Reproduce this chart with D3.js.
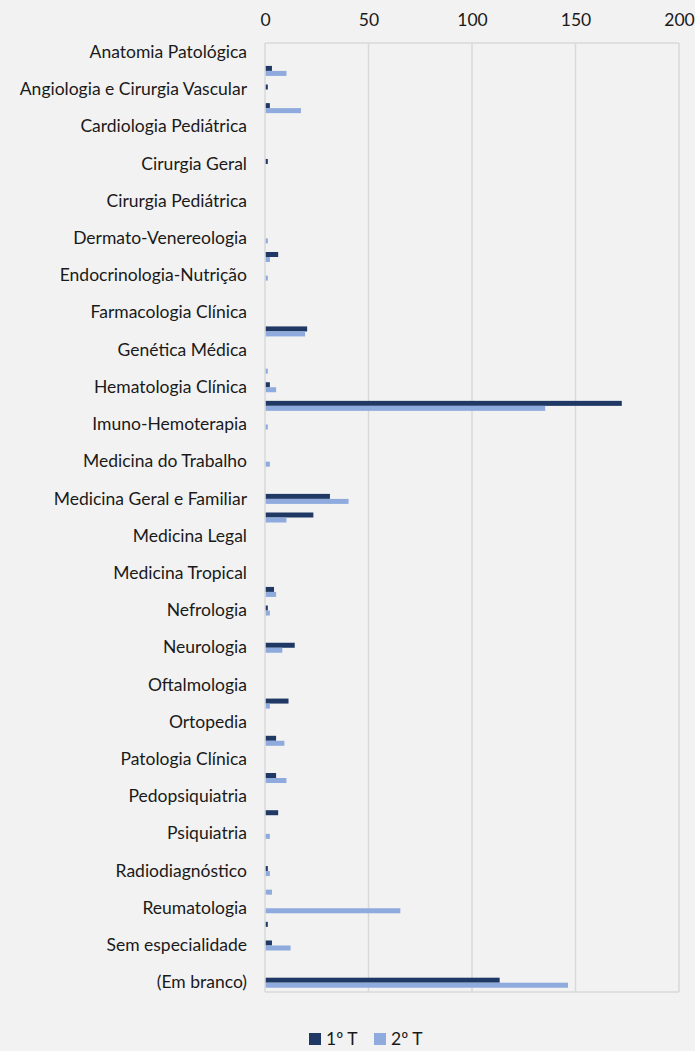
<!DOCTYPE html>
<html>
<head>
<meta charset="utf-8">
<script src="https://cdn.jsdelivr.net/npm/d3@7"></script>
<style>
  body { margin: 0; background: #F2F2F2; }
  svg { display: block; font-family: Lato, "Open Sans", sans-serif; }
</style>
</head>
<body>
<div id="chart"></div>
<script>
// categories (only every other one gets a label, as in the original)
var categories = [
  'Anatomia Patológica', 'Anestesiologia', 'Angiologia e Cirurgia Vascular', 'Cardiologia',
  'Cardiologia Pediátrica', 'Cirurgia Cardiotorácica', 'Cirurgia Geral', 'Cirurgia Maxilo-Facial',
  'Cirurgia Pediátrica', 'Cirurgia Plástica Reconstrutiva e Estética', 'Dermato-Venereologia', 'Doenças Infecciosas',
  'Endocrinologia-Nutrição', 'Estomatologia', 'Farmacologia Clínica', 'Gastrenterologia',
  'Genética Médica', 'Ginecologia/Obstetrícia', 'Hematologia Clínica', 'Imunoalergologia',
  'Imuno-Hemoterapia', 'Medicina Desportiva', 'Medicina do Trabalho', 'Medicina Física e de Reabilitação',
  'Medicina Geral e Familiar', 'Medicina Interna', 'Medicina Legal', 'Medicina Nuclear',
  'Medicina Tropical', 'Medicina Intensiva', 'Nefrologia', 'Neurocirurgia',
  'Neurologia', 'Neurorradiologia', 'Oftalmologia', 'Oncologia Médica',
  'Ortopedia', 'Otorrinolaringologia', 'Patologia Clínica', 'Pediatria',
  'Pedopsiquiatria', 'Pneumologia', 'Psiquiatria', 'Radiologia',
  'Radiodiagnóstico', 'Radioterapia', 'Reumatologia', 'Saúde Pública',
  'Sem especialidade', 'Urologia', '(Em branco)'
];

var serie1 = [ // 1º T
  0, 3, 1, 2, 0, 0, 1, 0, 0, 0,
  0, 6, 0, 0, 0, 20, 0, 0, 2, 172,
  0, 0, 0, 0, 31, 23, 0, 0, 0, 4,
  1, 0, 14, 0, 0, 11, 0, 5, 0, 5,
  0, 6, 0, 0, 1, 0, 0, 1, 3, 0,
  113
];
var serie2 = [ // 2º T
  0, 10, 0, 17, 0, 0, 0, 0, 0, 0,
  1, 2, 1, 0, 0, 19, 0, 1, 5, 135,
  1, 0, 2, 0, 40, 10, 0, 0, 0, 5,
  2, 0, 8, 0, 0, 2, 0, 9, 0, 10,
  0, 0, 2, 0, 2, 3, 65, 0, 12, 0,
  146
];
var seriesNames = ['1º T', '2º T'];
var xTicks = [0, 50, 100, 150, 200];

var colors = { '1º T': '#203864', '2º T': '#8FAADC' };

var W = 695, H = 1051;
var margin = { top: 43, right: 16, bottom: 59, left: 265 };
var fontSize = '17.5px';

var rows = categories.map(function (c, i) {
  return { cat: c, values: [{ key: '1º T', v: serie1[i] }, { key: '2º T', v: serie2[i] }] };
});

var svg = d3.select('#chart').append('svg')
  .attr('width', W)
  .attr('height', H);

svg.append('rect').attr('width', W).attr('height', H).attr('fill', '#F2F2F2');

var x = d3.scaleLinear()
  .domain([0, 200])
  .range([margin.left, W - margin.right]);

var y = d3.scaleBand()
  .domain(categories)
  .range([margin.top, H - margin.bottom])
  .padding(0);

var ys = d3.scaleBand()
  .domain(seriesNames)
  .range([0, y.bandwidth()])
  .paddingInner(0)
  .paddingOuter(0.86);

// grid lines
svg.append('g')
  .selectAll('line')
  .data(xTicks)
  .join('line')
  .attr('x1', function (d) { return x(d); })
  .attr('x2', function (d) { return x(d); })
  .attr('y1', margin.top)
  .attr('y2', H - margin.bottom)
  .attr('stroke', '#D9D9D9')
  .attr('stroke-width', 1.5);

// top / bottom frame
svg.append('g')
  .selectAll('line')
  .data([margin.top, H - margin.bottom])
  .join('line')
  .attr('x1', x(0))
  .attr('x2', x(200))
  .attr('y1', function (d) { return d; })
  .attr('y2', function (d) { return d; })
  .attr('stroke', '#D9D9D9')
  .attr('stroke-width', 1.5);

// bars
var groups = svg.append('g')
  .selectAll('g')
  .data(rows)
  .join('g')
  .attr('transform', function (d) { return 'translate(0,' + y(d.cat) + ')'; });

groups.selectAll('rect')
  .data(function (d) { return d.values.filter(function (s) { return s.v > 0; }); })
  .join('rect')
  .attr('x', x(0) + 0.75)
  .attr('y', function (d) { return ys(d.key); })
  .attr('width', function (d) { return x(d.v) - x(0); })
  .attr('height', ys.bandwidth())
  .attr('fill', function (d) { return colors[d.key]; });

// x axis on top
var xAxis = svg.append('g')
  .attr('transform', 'translate(0,' + margin.top + ')')
  .call(d3.axisTop(x).tickValues(xTicks).tickSize(0).tickPadding(17));
xAxis.select('.domain').remove();
xAxis.selectAll('text')
  .attr('font-size', fontSize)
  .attr('font-family', 'Lato')
  .attr('fill', '#1a1a1a');

// category axis, every other label
var yAxis = svg.append('g')
  .attr('transform', 'translate(' + margin.left + ',0)')
  .call(d3.axisLeft(y)
    .tickValues(categories.filter(function (d, i) { return i % 2 === 0; }))
    .tickSize(0)
    .tickPadding(18));
yAxis.select('.domain').remove();
yAxis.selectAll('text')
  .attr('font-size', fontSize)
  .attr('font-family', 'Lato')
  .attr('fill', '#1a1a1a');

// legend
var legend = svg.append('g')
  .attr('transform', 'translate(309,1033)');
var items = legend.selectAll('g')
  .data(seriesNames)
  .join('g')
  .attr('transform', function (d, i) { return 'translate(' + (i * 65) + ',0)'; });
items.append('rect')
  .attr('width', 12)
  .attr('height', 12)
  .attr('fill', function (d) { return colors[d]; });
items.append('text')
  .attr('x', 17)
  .attr('y', 12)
  .attr('font-size', fontSize)
  .attr('fill', '#1a1a1a')
  .text(function (d) { return d; });
</script>
</body>
</html>
